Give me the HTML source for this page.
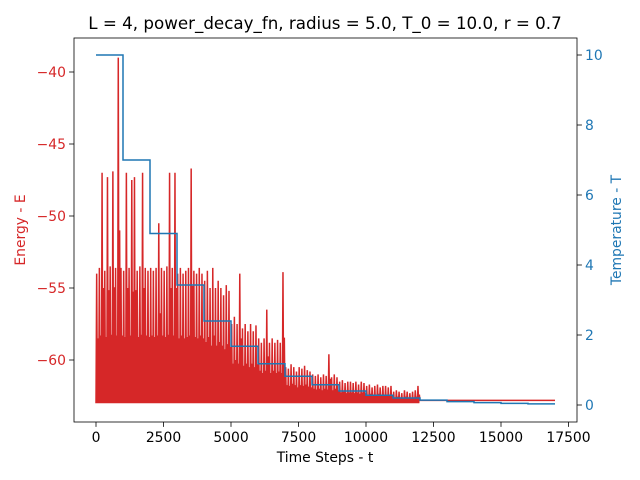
<!DOCTYPE html>
<html><head><meta charset="utf-8"><style>
body{margin:0;background:#fff}
svg{display:block;font-family:"DejaVu Sans","Liberation Sans",sans-serif}
</style></head><body>
<svg id="chart" width="640" height="480"></svg>
<script>
// data
const tempSteps = [0,1000,2000,3000,4000,5000,6000,7000,8000,9000,10000,11000,12000,13000,14000,15000,16000,17000];
const tempValues = [10,7,4.9,3.43,2.4,1.68,1.18,0.82,0.58,0.40,0.28,0.20,0.14,0.097,0.068,0.047,0.033,0.033];
const energyBinSize = 100;
const energyHigh = [
-54,-53.6,-47,-53.8,-47.3,-53.5,-46.9,-53.6,-39,-53.6,
-53.8,-47,-53.6,-47.5,-47.3,-53.8,-53.5,-47,-53.6,-53.8,
-53.6,-53.8,-53.6,-50.5,-53.6,-53.8,-53.5,-47,-53.6,-47,
-54,-53.6,-54,-53.8,-53.6,-46.7,-53.8,-54,-53.6,-54,
-54.5,-53.8,-55,-53.6,-55,-54.5,-55,-55.5,-54.8,-55.2,
-57.5,-57,-57.5,-54,-57.8,-57.5,-58,-57.5,-58,-57.6,
-58.5,-58.8,-58.5,-56.5,-58.8,-58.5,-58.8,-58.6,-58.8,-53.9,
-60.5,-60.6,-60.3,-60.5,-60.8,-60.5,-60.6,-60.4,-60.7,-60.8,
-61,-61.1,-61,-61.2,-61,-61.1,-59.6,-61.2,-61,-61.2,
-61.5,-61.4,-61.6,-61.5,-61.5,-61.6,-61.5,-61.7,-61.5,-61.6,
-61.8,-61.7,-61.9,-61.8,-61.7,-61.9,-61.8,-61.8,-61.9,-61.8,
-62.2,-62.1,-62.2,-62.3,-62.1,-62.2,-62.3,-62.2,-62.1,-61.8
];
const energyLow = -63;
const energyFinal = -62.8;
const energyEnd = 17000;
const xTicks = [0,2500,5000,7500,10000,12500,15000,17500];
const yLeftTicks = [-40,-45,-50,-55,-60];
const yRightTicks = [0,2,4,6,8,10];

const NS="http://www.w3.org/2000/svg";
const svg=document.getElementById('chart');
const L=74,R=577,T=38,B=422;
const x=t=>96+t*(472.5/17500);
const yE=e=>72+(-40-e)*14.4;
const yT=v=>405-v*35;
function mk(tag,attrs,parent){const el=document.createElementNS(NS,tag);for(const k in attrs)el.setAttribute(k,attrs[k]);(parent||svg).appendChild(el);return el;}

// energy line
let pts=[];
energyHigh.forEach((h,i)=>{
  const t0=i*energyBinSize;
  pts.push([x(t0),yE(energyLow)]);
  pts.push([x(t0+energyBinSize*0.25),yE(h)]);
  pts.push([x(t0+energyBinSize*0.5),yE(energyLow)]);
  pts.push([x(t0+energyBinSize*0.75),yE((h+energyLow)/2)]);
});
const eEndBin=energyHigh.length*energyBinSize;
pts.push([x(eEndBin),yE(energyFinal)]);
pts.push([x(energyEnd),yE(energyFinal)]);
const eLine=mk('polyline',{points:pts.map(p=>p.join(',')).join(' '),fill:'none',stroke:'#d62728','stroke-width':1.5});



// temperature step line
let tp=[];
for(let i=0;i<tempSteps.length-1;i++){
  tp.push([x(tempSteps[i]),yT(tempValues[i])]);
  tp.push([x(tempSteps[i+1]),yT(tempValues[i])]);
}
const tLine=mk('polyline',{points:tp.map(p=>p.join(',')).join(' '),fill:'none',stroke:'#1f77b4','stroke-width':1.5});



// frame
const frame=mk('rect',{x:L,y:T,width:R-L,height:B-T,fill:'none',stroke:'#000','stroke-width':0.8});



xTicks.forEach(t=>{
  mk('line',{x1:x(t),x2:x(t),y1:B,y2:B+4.9,stroke:'#000','stroke-width':0.8});
  const tx=mk('text',{x:x(t),y:B+20,'font-size':13.9,'text-anchor':'middle',fill:'#000'});
  tx.textContent=t;
  
  
});
yLeftTicks.forEach(v=>{
  mk('line',{x1:L-4.9,x2:L,y1:yE(v),y2:yE(v),stroke:'#000','stroke-width':0.8});
  const tx=mk('text',{x:L-8,y:yE(v)+5,'font-size':13.9,'text-anchor':'end',fill:'#d62728'});
  tx.textContent='\u2212'+Math.abs(v);
  
  
});
yRightTicks.forEach(v=>{
  mk('line',{x1:R,x2:R+4.9,y1:yT(v),y2:yT(v),stroke:'#000','stroke-width':0.8});
  const tx=mk('text',{x:R+8,y:yT(v)+5,'font-size':13.9,'text-anchor':'start',fill:'#1f77b4'});
  tx.textContent=v;
  
  
});

const title=mk('text',{x:325,y:29,'font-size':16.7,'text-anchor':'middle',fill:'#000'});
title.textContent='L = 4, power_decay_fn, radius = 5.0, T_0 = 10.0, r = 0.7';



const xl=mk('text',{x:325,y:462,'font-size':13.9,'text-anchor':'middle',fill:'#000'});
xl.textContent='Time Steps - t';



const yl=mk('text',{x:25,y:230,'font-size':13.9,'text-anchor':'middle',fill:'#d62728',transform:'rotate(-90 25 230)'});
yl.textContent='Energy - E';



const yr=mk('text',{x:621,y:230,'font-size':13.9,'text-anchor':'middle',fill:'#1f77b4',transform:'rotate(-90 621 230)'});
yr.textContent='Temperature - T';


</script>
</body></html>
